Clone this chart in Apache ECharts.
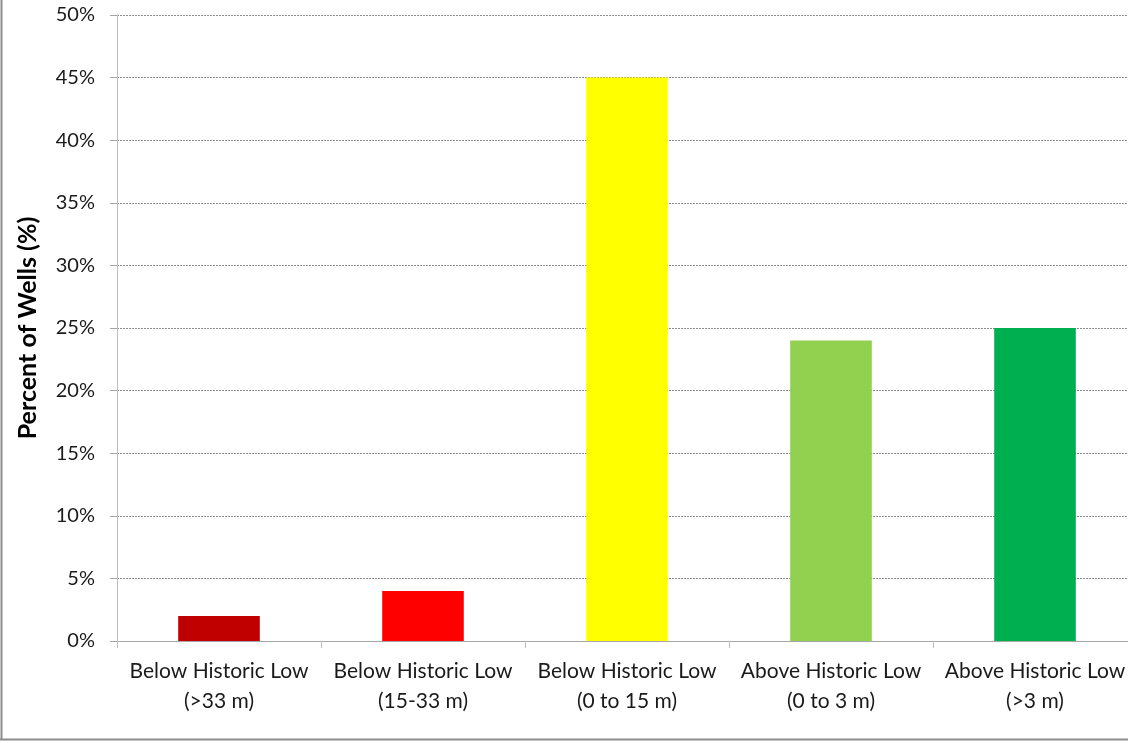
<!DOCTYPE html>
<html><head><meta charset="utf-8">
<script src="https://cdn.jsdelivr.net/npm/echarts@6/dist/echarts.min.js"></script>
<style>html,body{margin:0;padding:0;background:#fff;overflow:hidden;width:1128px;height:743px}#c{width:1137px;height:743px}</style>
</head><body><div id="c"></div>
<script>
const categories = ['Below Historic Low\n(>33 m)','Below Historic Low\n(15-33 m)','Below Historic Low\n(0 to 15 m)','Above Historic Low\n(0 to 3 m)','Above Historic Low\n(>3 m)'];
const values = [2, 4, 45, 24, 25];
const barColors = ['#c00000','#ff0000','#ffff00','#92d050','#00b050'];
const yTitle = 'Percent of Wells (%)';
const FONT = 'Lato, "Open Sans", sans-serif';
const chart = echarts.init(document.getElementById('c'), null, {renderer:'canvas'});
chart.setOption({
  animation:false,
  grid:{left:117, right:0, top:15, height:626, containLabel:false},
  xAxis:{type:'category', data:categories,
    axisLine:{lineStyle:{color:'#a6a6a6', width:1}},
    axisTick:{show:true, alignWithLabel:false, length:7, lineStyle:{color:'#bfbfbf'}},
    axisLabel:{color:'#1a1a1a', fontFamily:FONT, fontSize:21, lineHeight:30, margin:15, interval:0}
  },
  yAxis:{type:'value', min:0, max:50, interval:5,
    name:yTitle, nameLocation:'middle', nameGap:77, nameRotate:90,
    nameTextStyle:{fontFamily:FONT, fontSize:25, fontWeight:'bold', color:'#000'},
    axisLine:{show:true, lineStyle:{color:'#bfbfbf', width:1}},
    axisTick:{show:true, length:7, lineStyle:{color:'#a6a6a6'}},
    axisLabel:{formatter:'{value}%', color:'#1a1a1a', fontFamily:FONT, fontSize:20, margin:22},
    splitLine:{show:true, lineStyle:{color:'#8c8c8c', type:[2,1], width:1}}
  },
  series:[{type:'bar', data:values.map((v,i)=>({value:v, itemStyle:{color:barColors[i]}})), barWidth:'40%'}],
  graphic:[
    {type:'line', shape:{x1:1.5,y1:0,x2:1.5,y2:740}, style:{stroke:'#8c8c8c', lineWidth:2}},
    {type:'line', shape:{x1:0,y1:739.5,x2:1137,y2:739.5}, style:{stroke:'#8c8c8c', lineWidth:2}}
  ]
});
</script></body></html>
